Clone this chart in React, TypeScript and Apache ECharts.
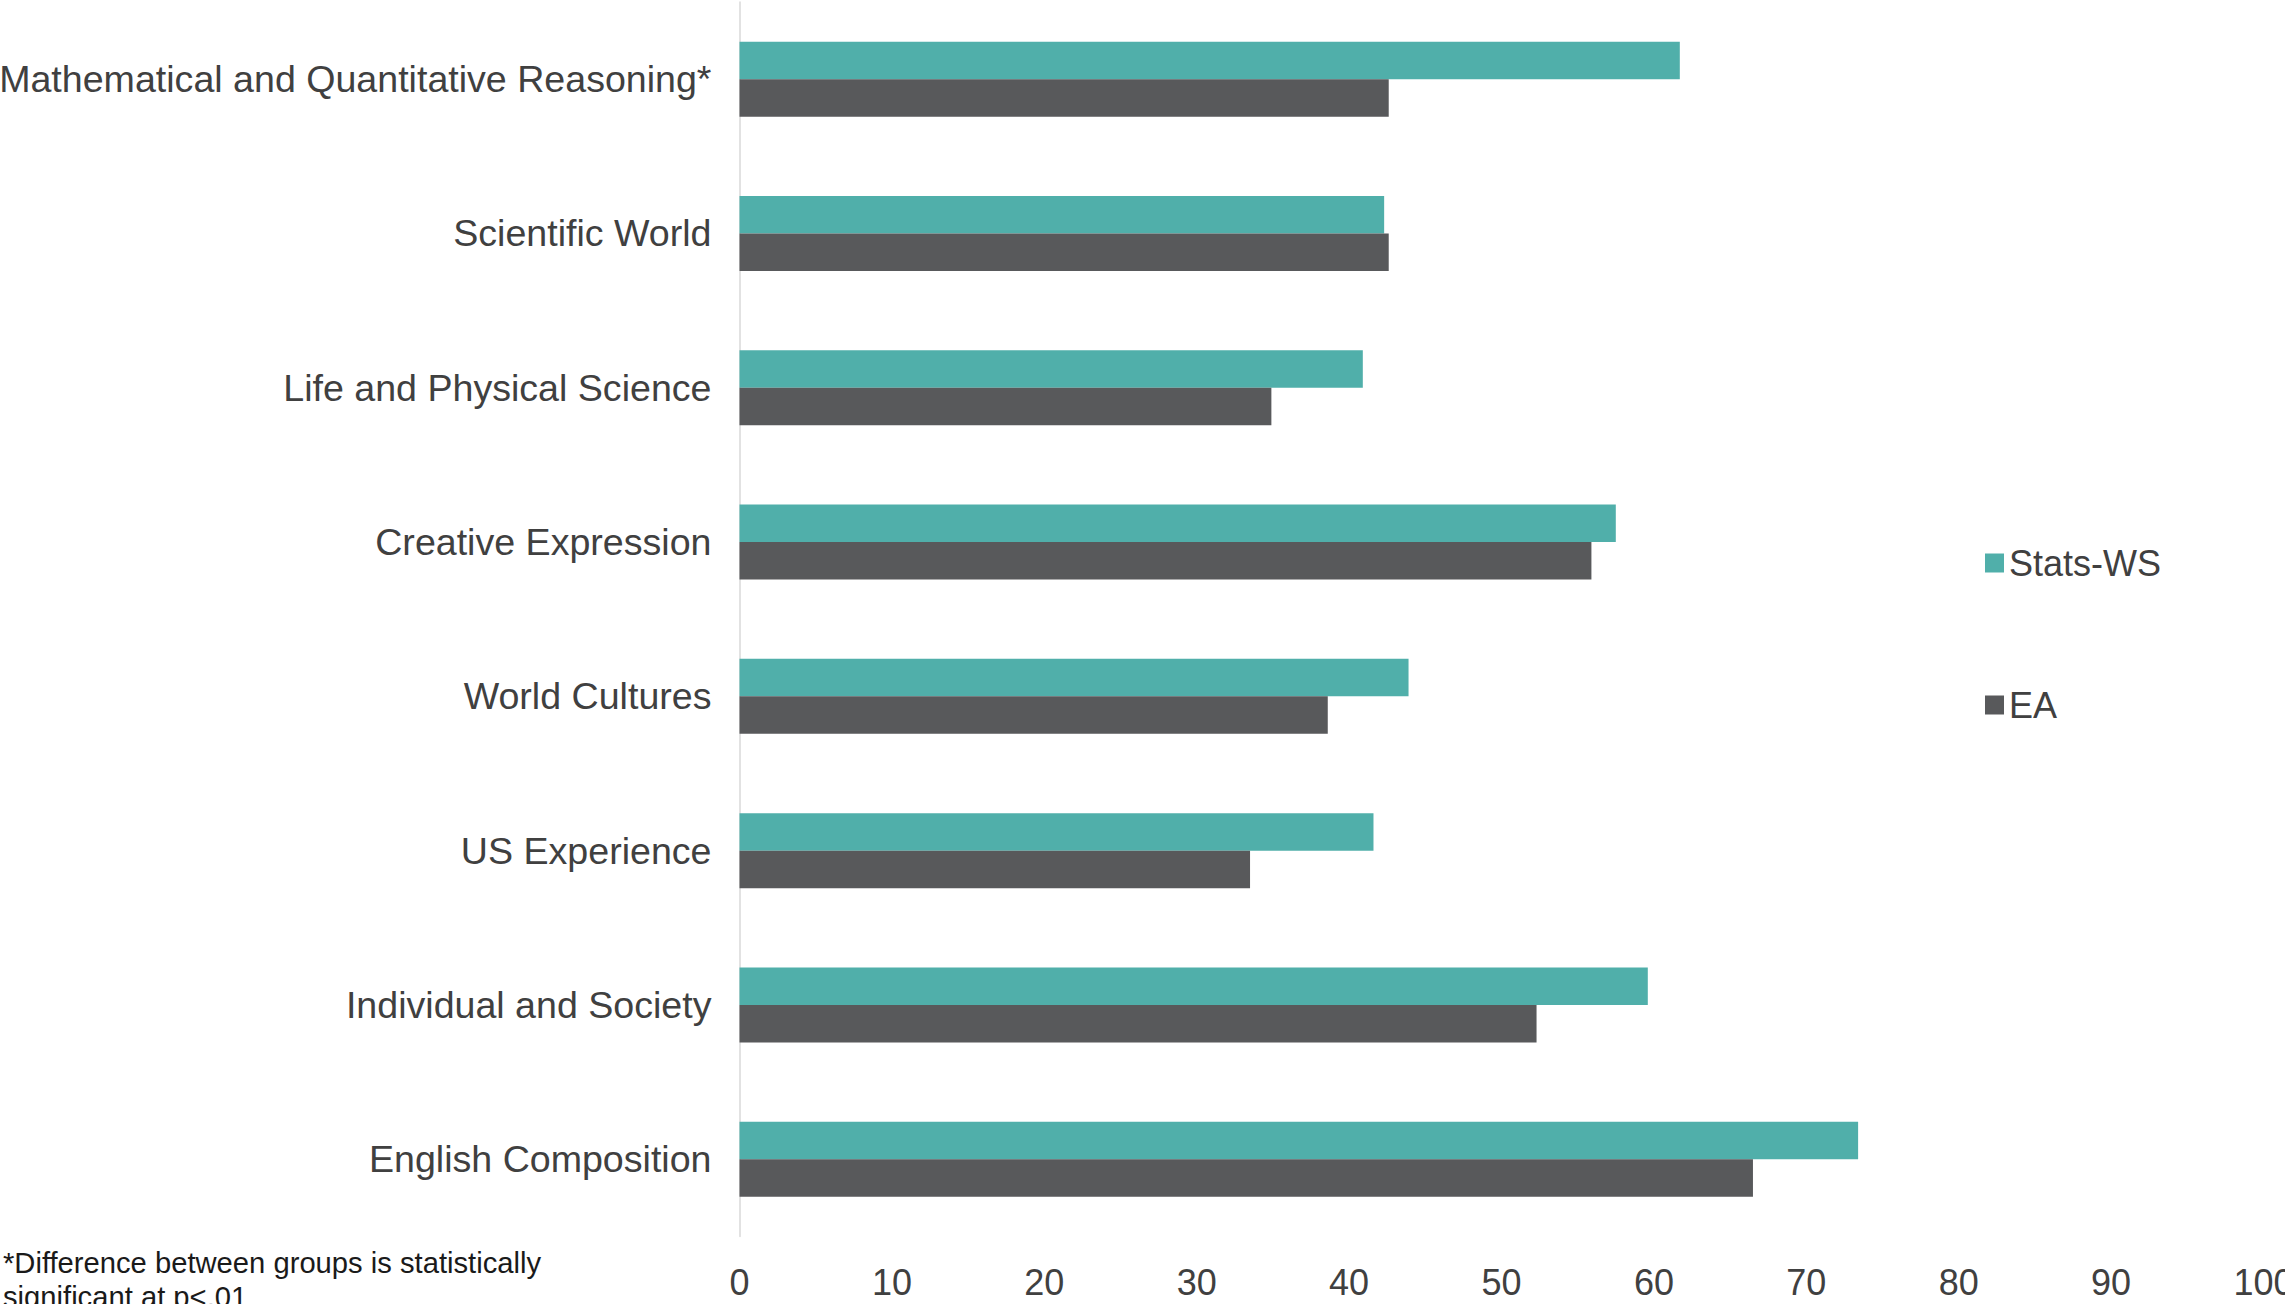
import React, { useEffect, useRef } from "react";
import * as echarts from "echarts";

const categories = [
  "Mathematical and Quantitative Reasoning*",
  "Scientific World",
  "Life and Physical Science",
  "Creative Expression",
  "World Cultures",
  "US Experience",
  "Individual and Society",
  "English Composition",
];
const statsWS = [61.7, 42.3, 40.9, 57.5, 43.9, 41.6, 59.6, 73.4];
const ea = [42.6, 42.6, 34.9, 55.9, 38.6, 33.5, 52.3, 66.5];
const seriesNames = ["Stats-WS", "EA"];
const footnote = "*Difference between groups is statistically\nsignificant at p<.01";

const FONT = "'Liberation Sans', Arial, sans-serif";

export default function App() {
  const ref = useRef<HTMLDivElement>(null);
  useEffect(() => {
    if (!ref.current) return;
    const chart = echarts.init(ref.current, undefined, { renderer: "svg" });
    chart.setOption({
      animation: false,
      backgroundColor: "#ffffff",
      textStyle: { fontFamily: FONT },
      grid: {
        left: 739.5,
        right: 21.5,
        top: 2,
        bottom: 67.6,
        containLabel: false,
        outerBoundsMode: "none",
      },
      legend: {
        orient: "vertical",
        left: 1980,
        top: 538,
        itemWidth: 19,
        itemHeight: 19,
        itemGap: 102,
        itemTextGap: 9,
        icon: "rect",
        data: seriesNames,
        textStyle: { fontSize: 36, color: "#404040", fontFamily: FONT, lineHeight: 40 },
      },
      xAxis: {
        type: "value",
        min: 0,
        max: 100,
        interval: 10,
        axisLine: { show: false },
        axisTick: { show: false },
        splitLine: { show: false },
        axisLabel: { fontSize: 36, color: "#404040", margin: 28, fontFamily: FONT },
      },
      yAxis: {
        type: "category",
        inverse: true,
        data: categories,
        axisLine: { show: true, lineStyle: { color: "#d9d9d9", width: 1.5 } },
        axisTick: { show: false },
        axisLabel: { fontSize: 37.6, color: "#404040", margin: 28, fontFamily: FONT },
      },
      series: [
        {
          name: seriesNames[0],
          type: "bar",
          data: statsWS,
          barWidth: 37.5,
          barGap: "0%",
          itemStyle: { color: "#50AFAA" },
        },
        {
          name: seriesNames[1],
          type: "bar",
          data: ea,
          barWidth: 37.5,
          barGap: "0%",
          itemStyle: { color: "#58595B" },
        },
      ],
      graphic: [
        {
          type: "text",
          left: 3,
          top: 1246,
          style: {
            text: footnote,
            fontSize: 29.2,
            lineHeight: 34,
            fill: "#1a1a1a",
            fontFamily: FONT,
          },
        },
      ],
    });
    return () => chart.dispose();
  }, []);
  return (
    <div
      ref={ref}
      style={{ position: "fixed", left: 0, top: 0, width: 2285, height: 1304 }}
    />
  );
}
